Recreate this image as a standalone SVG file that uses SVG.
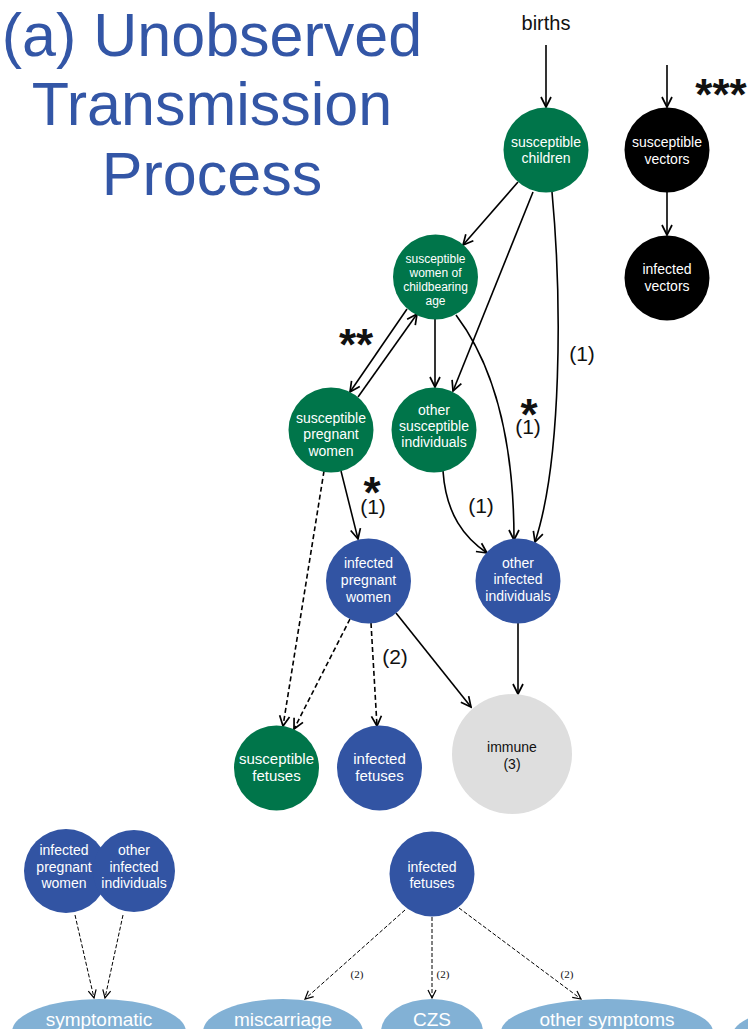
<svg xmlns="http://www.w3.org/2000/svg" width="748" height="1029" viewBox="0 0 748 1029">
<defs>
<style>
text{font-family:"Liberation Sans",Arial,sans-serif;}
.title{font-size:61px;fill:#3356a6;text-anchor:middle;}
.nt{font-size:14px;fill:#fff;text-anchor:middle;}
.ns{font-size:12px;fill:#fff;text-anchor:middle;}
.nf{font-size:15px;fill:#fff;text-anchor:middle;}
.nk{font-size:14px;fill:#111;text-anchor:middle;}
.lab{font-size:21px;fill:#111;text-anchor:middle;}
.ast{font-size:44px;font-weight:bold;fill:#111;text-anchor:middle;}
.sml{font-family:"Liberation Serif","Times New Roman",serif;font-size:11px;fill:#111;text-anchor:middle;}
.el{font-size:19px;fill:#fff;text-anchor:middle;}
.green{fill:#00754a;}
.blue{fill:#3254a3;}
.black{fill:#000;}
.gray{fill:#dedede;}
.lb{fill:#82b1d5;}
.c{fill:none;stroke:#000;stroke-width:1.6;marker-end:url(#ah);}
.d{fill:none;stroke:#000;stroke-width:1.6;stroke-dasharray:5 3;marker-end:url(#ah);}
.t{fill:none;stroke:#000;stroke-width:1;stroke-dasharray:4 2;marker-end:url(#ahs);}
</style>
<marker id="ah" viewBox="-12 -7 14 14" markerWidth="14" markerHeight="14" refX="0" refY="0" orient="auto" markerUnits="userSpaceOnUse">
<path d="M-10,-5 L0,0 L-10,5" fill="none" stroke="#000" stroke-width="1.7"/>
</marker>
<marker id="ahs" viewBox="-10 -6 12 12" markerWidth="12" markerHeight="12" refX="0" refY="0" orient="auto" markerUnits="userSpaceOnUse">
<path d="M-8,-4 L0,0 L-8,4" fill="none" stroke="#000" stroke-width="1.2"/>
</marker>
</defs>
<rect width="748" height="1029" fill="#fff"/>

<g id="title">
<text class="title" x="212" y="56">(a) Unobserved</text>
<text class="title" x="212" y="125">Transmission</text>
<text class="title" x="212" y="195">Process</text>
</g>

<g id="connectors">
<path class="c" d="M546,45 L546,107"/>
<path class="c" d="M667,65 L667,107"/>
<path class="c" d="M667,192 L667,235"/>
<path class="c" d="M518,182 L463,245"/>
<path class="c" d="M533,192 L453,391"/>
<path class="c" d="M552,192 C562,300 562,460 535,542"/>
<path class="c" d="M456,315 C490,360 514,430 514,540"/>
<path class="c" d="M435,319 L435,387"/>
<path class="c" d="M407,309 L350,392"/>
<path class="c" d="M358,397 L417,314"/>
<path class="c" d="M443,471 C446,515 465,538 487,553"/>
<path class="c" d="M341,471 L358,539"/>
<path class="d" d="M324,471 L283,726"/>
<path class="d" d="M350,619 L294,729"/>
<path class="d" d="M371,623 L377,726"/>
<path class="c" d="M396,613 L471,707"/>
<path class="c" d="M518,623 L518,694"/>
<path class="t" d="M75,915 L94,998"/>
<path class="t" d="M123,915 L105,998"/>
<path class="t" d="M405,910 L305,999"/>
<path class="t" d="M432,917 L432,998"/>
<path class="t" d="M459,908 L581,999"/>
</g>

<g id="labels">
<text class="lab" x="546" y="30" style="font-size:20px">births</text>
<text class="ast" x="721" y="110">***</text>
<text class="ast" x="356" y="360">**</text>
<text class="lab"><tspan class="ast" x="529" y="430">*</tspan><tspan x="528" y="434">(1)</tspan></text>
<text class="lab"><tspan class="ast" x="372" y="508">*</tspan><tspan x="373" y="514">(1)</tspan></text>
<text class="lab" x="481" y="513">(1)</text>
<text class="lab" x="582" y="361">(1)</text>
<text class="lab" x="395" y="664">(2)</text>
<text class="sml" x="357" y="978">(2)</text>
<text class="sml" x="443" y="978">(2)</text>
<text class="sml" x="567" y="978">(2)</text>
</g>

<g id="n-sus-children">
<circle class="green" cx="546" cy="150" r="42.5"/>
<text class="nt" x="546" y="147">susceptible</text>
<text class="nt" x="546" y="163">children</text>
</g>
<g id="n-sus-vectors">
<circle class="black" cx="667" cy="150" r="42.5"/>
<text class="nt" x="667" y="147">susceptible</text>
<text class="nt" x="667" y="164">vectors</text>
</g>
<g id="n-inf-vectors">
<circle class="black" cx="667" cy="278" r="42.5"/>
<text class="nt" x="667" y="274">infected</text>
<text class="nt" x="667" y="291">vectors</text>
</g>
<g id="n-sus-women">
<circle class="green" cx="435.5" cy="277" r="42.5"/>
<text class="ns" x="435.5" y="263">susceptible</text>
<text class="ns" x="435.5" y="277">women of</text>
<text class="ns" x="435.5" y="291">childbearing</text>
<text class="ns" x="435.5" y="305">age</text>
</g>
<g id="n-sus-pregnant">
<circle class="green" cx="331" cy="430" r="42.5"/>
<text class="nt" x="331" y="423">susceptible</text>
<text class="nt" x="331" y="439">pregnant</text>
<text class="nt" x="331" y="456">women</text>
</g>
<g id="n-other-sus">
<circle class="green" cx="434" cy="430" r="42.5"/>
<text class="nt" x="434" y="415">other</text>
<text class="nt" x="434" y="431">susceptible</text>
<text class="nt" x="434" y="447">individuals</text>
</g>
<g id="n-inf-pregnant">
<circle class="blue" cx="368.5" cy="581" r="42.5"/>
<text class="nt" x="368.5" y="568">infected</text>
<text class="nt" x="368.5" y="585">pregnant</text>
<text class="nt" x="368.5" y="602">women</text>
</g>
<g id="n-other-inf">
<circle class="blue" cx="518" cy="581" r="42.5"/>
<text class="nt" x="518" y="568">other</text>
<text class="nt" x="518" y="584">infected</text>
<text class="nt" x="518" y="601">individuals</text>
</g>
<g id="n-sus-fetuses">
<circle class="green" cx="276.5" cy="768" r="42.5"/>
<text class="nf" x="276.5" y="764">susceptible</text>
<text class="nf" x="276.5" y="781">fetuses</text>
</g>
<g id="n-inf-fetuses">
<circle class="blue" cx="379.5" cy="768" r="42.5"/>
<text class="nf" x="379.5" y="764">infected</text>
<text class="nf" x="379.5" y="781">fetuses</text>
</g>
<g id="n-immune">
<circle class="gray" cx="512" cy="754" r="60"/>
<text class="nk" x="512" y="752">immune</text>
<text class="nk" x="512" y="769">(3)</text>
</g>

<g id="n-b-inf-pregnant">
<circle class="blue" cx="66" cy="871" r="42"/>
<text class="nt" x="64" y="855">infected</text>
<text class="nt" x="64" y="872">pregnant</text>
<text class="nt" x="64" y="888">women</text>
</g>
<g id="n-b-other-inf">
<circle class="blue" cx="134" cy="871" r="41"/>
<text class="nt" x="134" y="855">other</text>
<text class="nt" x="134" y="872">infected</text>
<text class="nt" x="134" y="888">individuals</text>
</g>
<g id="n-b-inf-fetuses">
<circle class="blue" cx="432" cy="874" r="42.5"/>
<text class="nt" x="432" y="872">infected</text>
<text class="nt" x="432" y="888">fetuses</text>
</g>
<g id="n-symptomatic">
<ellipse class="lb" cx="99" cy="1032" rx="87" ry="33"/>
<text class="el" x="99" y="1026">symptomatic</text>
</g>
<g id="n-miscarriage">
<ellipse class="lb" cx="283" cy="1032" rx="80" ry="33"/>
<text class="el" x="283" y="1026">miscarriage</text>
</g>
<g id="n-czs">
<ellipse class="lb" cx="432" cy="1032" rx="51" ry="33"/>
<text class="el" x="432" y="1026">CZS</text>
</g>
<g id="n-other-symptoms">
<ellipse class="lb" cx="607" cy="1032" rx="106" ry="33"/>
<text class="el" x="607" y="1026">other symptoms</text>
</g>
<g id="n-partial">
<ellipse class="lb" cx="838" cy="1036" rx="106" ry="33"/>
</g>
</svg>
